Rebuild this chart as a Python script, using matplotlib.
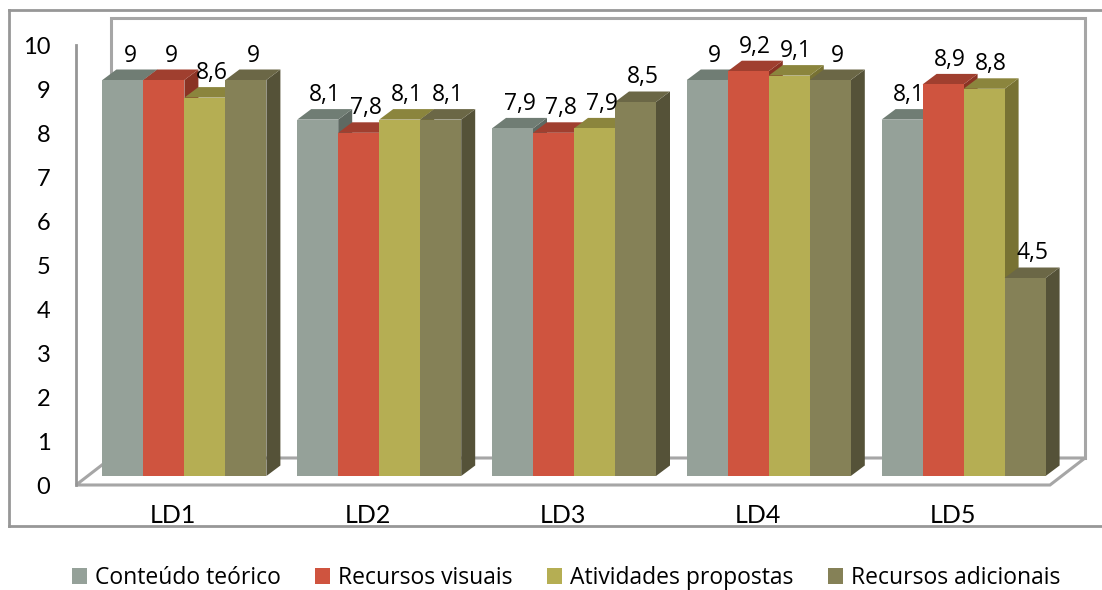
import matplotlib
matplotlib.use("Agg")
import matplotlib.pyplot as plt
from matplotlib.patches import Polygon, Rectangle
from matplotlib.lines import Line2D
import numpy as np

# ---- data ----
categories = ["LD1", "LD2", "LD3", "LD4", "LD5"]
series_names = ["Conteúdo teórico", "Recursos visuais", "Atividades propostas", "Recursos adicionais"]
conteudo = [9, 8.1, 7.9, 9, 8.1]
visuais = [9, 7.8, 7.8, 9.2, 8.9]
atividades = [8.6, 8.1, 7.9, 9.1, 8.8]
adicionais = [9, 8.1, 8.5, 9, 4.5]
yticks = list(range(0, 11))

values = [conteudo, visuais, atividades, adicionais]
front_colors = ["#95A199", "#CF543F", "#B5AE53", "#858157"]
top_colors = ["#707D74", "#A03F2F", "#8B853D", "#6B6746"]
side_colors = ["#5E6962", "#8A3324", "#787233", "#555238"]

W, H, DPI = 1102, 590, 100
fig = plt.figure(figsize=(W / DPI, H / DPI), dpi=DPI)
fig.patch.set_facecolor("white")

# axes placement (pixels)
x0px, x1px = 76, 1050
y0px, y10px = 485, 45
ax = fig.add_axes([x0px / W, (H - y0px) / H, (x1px - x0px) / W, (y0px - y10px) / H])
ax.set_xlim(-0.5, len(categories) - 0.5)
ax.set_ylim(0, 10)
ax.patch.set_visible(False)
for s in ax.spines.values():
    s.set_visible(False)

ppx = (x1px - x0px) / len(categories)   # pixels per x unit
ppy = (y0px - y10px) / 10.0             # pixels per y unit

wall_col = "#A6A6A6"
# back wall & floor (depth offset)
DX, DY = 35 / ppx, 27 / ppy
xl, xr = -0.5, len(categories) - 0.5
ax.add_patch(Rectangle((xl + DX, DY), xr - xl, 10, fill=False, ec=wall_col, lw=2.2,
                       clip_on=False, zorder=1))
ax.add_patch(Polygon([(xl, 0), (xr, 0), (xr + DX, DY), (xl + DX, DY)], closed=True,
                     fc="white", ec=wall_col, lw=2.2, clip_on=False, zorder=1))
# vertical axis line
ax.add_line(Line2D([xl, xl], [0, 10], color="#969696", lw=2, clip_on=False, zorder=1))

# bars
bw = 41 / ppx
ox, oy = 11 / ppx, 9 / ppy        # bar front plane offset
dx, dy = 14 / ppx, 10.5 / ppy     # bar depth
nser = len(values)
z = 3
for i in range(len(categories)):
    for j in range(nser):
        h = values[j][i]
        left = i + (j - nser / 2) * bw + ox
        right = left + bw
        # side
        ax.add_patch(Polygon([(right, oy), (right, oy + h), (right + dx, oy + h + dy), (right + dx, oy + dy)],
                             closed=True, fc=side_colors[j], ec="none", clip_on=False, zorder=z))
        # top
        ax.add_patch(Polygon([(left, oy + h), (right, oy + h), (right + dx, oy + h + dy), (left + dx, oy + h + dy)],
                             closed=True, fc=top_colors[j], ec="none", clip_on=False, zorder=z))
        # front
        ax.bar(left, h, width=bw, bottom=oy, align="edge", color=front_colors[j],
               edgecolor="none", clip_on=False, zorder=z)
        z += 0.01
        lab = str(h).replace(".", ",")
        if lab.endswith(",0"):
            lab = lab[:-2]
        ax.text(left + bw / 2 + dx / 2, oy + h + dy + 8 / ppy, lab, ha="center", va="baseline",
                fontsize=16.5, family="Open Sans", color="black", zorder=10, clip_on=False)

# ticks
ax.set_yticks(yticks)
ax.set_yticklabels([str(t) for t in yticks], fontsize=17, family="Lato", color="black")
ax.set_xticks(range(len(categories)))
ax.set_xticklabels(categories, fontsize=18, family="Lato", color="black")
ax.tick_params(axis="y", length=0, pad=18.5)
ax.tick_params(axis="x", length=0, pad=14)

# outer chart frame
fx0 = 9 / W
fy_top = (H - 10) / H
fy_bot = (H - 526) / H
frame_col = "#979797"
# white mask to clip category labels below the frame line
fig.add_artist(Rectangle((0, (H - 550) / H), 1, 24 / H, transform=fig.transFigure,
                         fc="white", ec="none", zorder=5))
fig.add_artist(Line2D([fx0, 1], [fy_top, fy_top], transform=fig.transFigure, color=frame_col, lw=2, zorder=6))
fig.add_artist(Line2D([fx0, fx0], [fy_top, fy_bot], transform=fig.transFigure, color=frame_col, lw=2, zorder=6))
fig.add_artist(Line2D([fx0, 1], [fy_bot, fy_bot], transform=fig.transFigure, color=frame_col, lw=2, zorder=6))

# legend
handles = [Rectangle((0, 0), 1, 1, fc=c, ec="none") for c in front_colors]
leg = fig.legend(handles, series_names, loc="center", bbox_to_anchor=(566 / W, (H - 578) / H),
                 ncol=4, frameon=False, prop={"family": "Open Sans", "size": 16.5},
                 handlelength=0.65, handleheight=0.65, handletextpad=0.35, columnspacing=1.5,
                 borderaxespad=0, borderpad=0)
leg.set_zorder(7)

fig.savefig("out.png", dpi=DPI, facecolor="white")
